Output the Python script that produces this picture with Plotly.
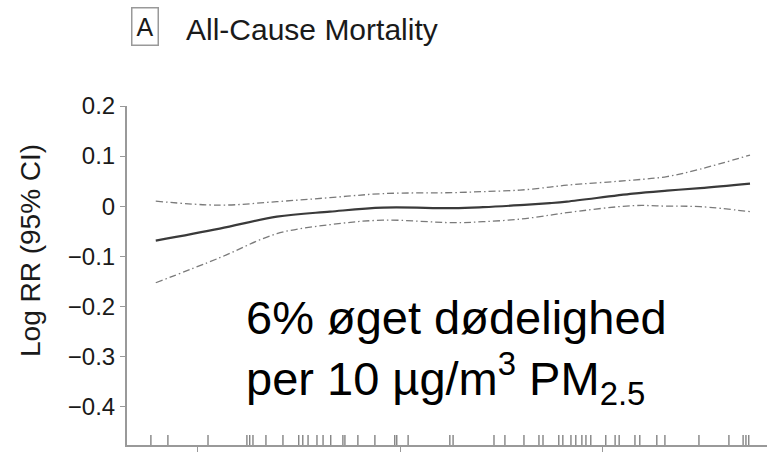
import plotly.graph_objects as go

# Smoothed exposure-response curve (log relative risk) with 95% CI
pm_fit = [8.96, 10.54, 11.95, 13.26, 14.57, 16.30, 17.04, 17.95, 18.69, 19.11, 20.74, 21.58, 22.40, 23.63]
log_rr = [-0.069, -0.045, -0.021, -0.011, -0.003, -0.004, -0.002, 0.002, 0.006, 0.009, 0.025, 0.031, 0.036, 0.045]
ci_upper = [0.010, 0.002, 0.009, 0.017, 0.025, 0.027, 0.029, 0.032, 0.038, 0.042, 0.052, 0.059, 0.074, 0.102]
ci_lower = [-0.153, -0.103, -0.055, -0.037, -0.028, -0.033, -0.031, -0.026, -0.018, -0.013, 0.001, 0.000, -0.001, -0.011]

# Individual observations shown as a rug along the x axis
rug_x = [8.84, 9.26, 10.25, 11.21, 11.28, 11.36, 11.68, 12.10, 12.49, 12.59, 12.72, 12.94,
         13.09, 13.28, 13.58, 13.63, 13.95, 14.37, 14.86, 14.91, 15.19, 16.22, 16.30, 17.31,
         17.58, 18.05, 18.42, 18.52, 18.91, 19.01, 19.21, 19.33, 19.48, 19.58, 19.70, 20.07,
         20.30, 20.40, 20.79, 20.91, 21.33, 21.53, 22.37, 23.11, 23.46, 23.53, 23.60]

y_ticks = [0.2, 0.1, 0.0, -0.1, -0.2, -0.3, -0.4]
y_tick_text = ["0.2", "0.1", "0", "\u22120.1", "\u22120.2", "\u22120.3", "\u22120.4"]
x_ticks = [10, 15, 20]
y_range = [-0.477, 0.2]
x_range = [8.25, 24.05]

FONT = "Liberation Sans, Arial, Helvetica, sans-serif"
ci_dash = "7px,3px,1.5px,3px"

fig = go.Figure()
fig.add_trace(go.Scatter(x=pm_fit, y=ci_upper, mode="lines", line_shape="spline",
                         line=dict(color="#7a7a7a", width=1.3, dash=ci_dash), hoverinfo="skip"))
fig.add_trace(go.Scatter(x=pm_fit, y=ci_lower, mode="lines", line_shape="spline",
                         line=dict(color="#7a7a7a", width=1.3, dash=ci_dash), hoverinfo="skip"))
fig.add_trace(go.Scatter(x=pm_fit, y=log_rr, mode="lines", line_shape="spline",
                         line=dict(color="#3a3a3a", width=2.2)))
fig.add_trace(go.Scatter(x=rug_x, y=[y_range[0] + 0.009] * len(rug_x), mode="markers",
                         marker=dict(symbol="line-ns", size=8, line=dict(color="#7a7a7a", width=1.3)),
                         cliponaxis=False, hoverinfo="skip"))

W, H = 769, 453
L, R, T, B = 127, 2, 106, 8
pw, ph = W - L - R, H - T - B

def px(xp):
    return (xp - L) / pw

def py(yp):
    return (H - B - yp) / ph

fig.update_layout(
    width=W, height=H,
    margin=dict(l=L, r=R, t=T, b=B),
    paper_bgcolor="white", plot_bgcolor="white",
    showlegend=False,
    font=dict(family=FONT, color="#222"),
    xaxis=dict(range=x_range, showgrid=False, zeroline=False, showline=True,
               linecolor="#999", linewidth=2, tickmode="array", tickvals=x_ticks,
               ticks="outside", ticklen=5, tickcolor="#999", showticklabels=False),
    yaxis=dict(range=y_range, showgrid=False, zeroline=False, showline=True,
               linecolor="#999", linewidth=2, tickmode="array", tickvals=y_ticks,
               ticktext=y_tick_text, ticks="outside", ticklen=5, tickcolor="#999",
               tickfont=dict(size=24, color="#1a1a1a")),
    annotations=[
        dict(text="Log RR (95% CI)", xref="paper", yref="paper", x=px(30), y=py(251),
             textangle=-90, showarrow=False, font=dict(size=28, color="#1a1a1a"),
             xanchor="center", yanchor="middle"),
        dict(text="A", xref="paper", yref="paper", x=px(145), y=py(27), showarrow=False,
             font=dict(size=25, color="#1a1a1a"), bordercolor="#999", borderwidth=1.5,
             borderpad=4, xanchor="center", yanchor="middle"),
        dict(text="All-Cause Mortality", xref="paper", yref="paper", x=px(184), y=py(29),
             showarrow=False, font=dict(size=30, color="#1a1a1a"), xanchor="left", yanchor="middle"),
        dict(text="6% øget dødelighed<br>per 10 µg/m<sup>3</sup> PM<sub>2.5</sub>",
             xref="paper", yref="paper", x=px(244), y=py(289), showarrow=False, align="left",
             font=dict(size=47, color="black"), xanchor="left", yanchor="top"),
    ],
)

fig.write_html("out.html")
